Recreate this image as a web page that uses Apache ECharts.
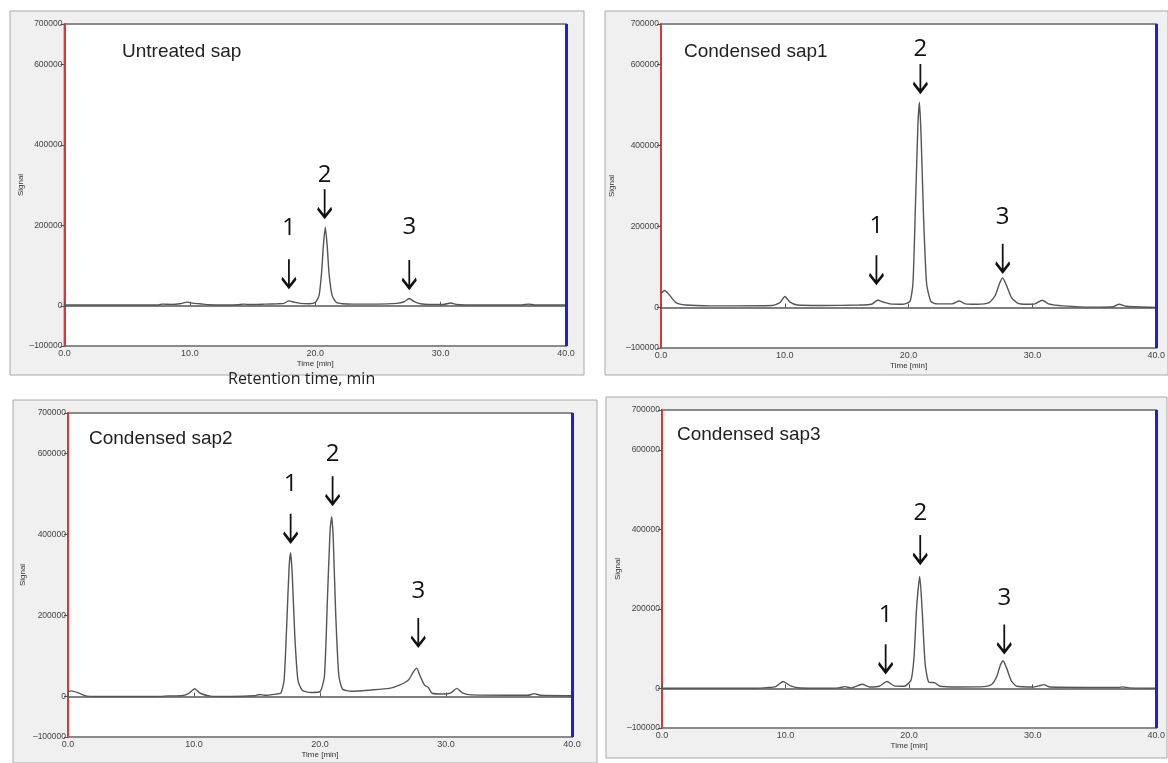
<!DOCTYPE html>
<html>
<head>
<meta charset="utf-8">
<script src="https://cdn.jsdelivr.net/npm/echarts@6/dist/echarts.min.js"></script>
<style>
  html, body { margin: 0; padding: 0; background: #fff; }
  #main { width: 1168px; height: 763px; }
</style>
</head>
<body>
<div id="main"></div>
<script>
// chromatogram traces, [time min, signal]
const untreatedSap = [
  [0, 2000], [7.5, 2000], [7.8, 4000], [8.5, 3500], [9.2, 5000], [9.8, 9000], [10.3, 6000],
  [10.8, 5000], [11.5, 2500], [13, 2000], [13.8, 2500], [14.3, 4000], [14.8, 3000], [16, 4000],
  [17, 5000], [17.5, 6000], [17.9, 12000], [18.3, 9000], [18.8, 6000], [19.5, 5000], [20, 8000],
  [20.3, 25000], [20.5, 80000], [20.65, 150000], [20.8, 195000], [20.95, 150000], [21.1, 80000],
  [21.35, 25000], [21.7, 8000], [22.2, 5000], [23, 4000], [25, 4000], [26.5, 6000], [27.1, 10000],
  [27.5, 18000], [27.9, 10000], [28.4, 5000], [29, 3000], [30.2, 3000], [30.8, 7000], [31.3, 3000],
  [32, 2000], [36.5, 2000], [37, 4000], [37.5, 2000], [40, 2000]
];
const condensedSap1 = [
  [0, 35000], [0.3, 42000], [0.7, 30000], [1.2, 12000], [2, 6000], [4, 4000], [9, 5000], [9.6, 12000],
  [10, 27000], [10.4, 14000], [11, 6000], [13, 5000], [16, 6000], [17, 8000], [17.5, 18000],
  [18, 13000], [18.5, 9000], [19.5, 8000], [20.1, 15000], [20.35, 60000], [20.55, 250000],
  [20.75, 450000], [20.87, 507000], [21.0, 430000], [21.2, 230000], [21.45, 60000], [21.8, 15000],
  [22.3, 9000], [23.5, 9000], [24.1, 16000], [24.6, 9000], [25.5, 8000], [26.5, 12000], [27, 30000],
  [27.35, 60000], [27.6, 73000], [27.9, 55000], [28.3, 25000], [28.8, 11000], [29.5, 8000],
  [30.2, 9000], [30.8, 18000], [31.3, 9000], [32.5, 4000], [35, 1000], [36.5, 2000], [37, 8000],
  [37.6, 3000], [40, 0]
];
const condensedSap2 = [
  [0, 12000], [0.3, 14000], [0.8, 9000], [1.5, 1000], [3, 0], [7, 0], [8, 1500], [9, 2000],
  [9.6, 8000], [10.05, 19000], [10.5, 8000], [11.3, 1000], [13, 0], [14.8, 2000], [15.2, 5000],
  [15.6, 3000], [16.5, 6000], [16.9, 9000], [17.15, 40000], [17.35, 170000], [17.55, 320000],
  [17.67, 355000], [17.8, 300000], [18.0, 150000], [18.25, 40000], [18.6, 15000], [19.3, 10000],
  [20, 12000], [20.35, 50000], [20.6, 250000], [20.8, 410000], [20.93, 444000], [21.05, 390000],
  [21.25, 200000], [21.5, 50000], [21.8, 18000], [22.5, 13000], [24, 16000], [25.5, 20000],
  [26.3, 28000], [27, 40000], [27.4, 60000], [27.67, 70000], [27.95, 50000], [28.3, 28000],
  [28.6, 22000], [28.9, 8000], [29.8, 6000], [30.4, 9000], [30.85, 20000], [31.3, 9000], [32, 4000],
  [36.5, 3000], [37, 7000], [37.5, 3000], [40, 2000]
];
const condensedSap3 = [
  [0, 0], [7.6, 0], [8.5, 1500], [9.2, 4000], [9.8, 17000], [10.4, 6000], [11.2, 500], [13, 0],
  [14.3, 1000], [14.8, 4000], [15.3, 1000], [16.2, 10000], [16.8, 3000], [17.6, 5000], [18.2, 17000],
  [18.8, 6000], [19.6, 5000], [20.15, 20000], [20.4, 80000], [20.6, 200000], [20.86, 281000],
  [21.05, 200000], [21.3, 60000], [21.6, 15000], [22.06, 14000], [22.5, 5000], [24, 3000],
  [26, 4000], [26.7, 10000], [27.1, 30000], [27.4, 60000], [27.6, 69000], [27.9, 50000],
  [28.25, 20000], [28.7, 5000], [30, 3000], [30.5, 6000], [30.9, 9000], [31.4, 3000], [35, 2000],
  [37, 2000], [37.3, 3500], [37.8, 1000], [40, 0]
];

// peak markers: [label, time, signal at arrow tip]
const untreatedPeaks = [['1', 17.9, 46000], ['2', 20.75, 220000], ['3', 27.5, 44000]];
const sap1Peaks = [['1', 17.4, 60000], ['2', 20.95, 532000], ['3', 27.6, 88000]];
const sap2Peaks = [['1', 17.67, 382000], ['2', 21.0, 475000], ['3', 27.8, 125000]];
const sap3Peaks = [['1', 18.1, 40000], ['2', 20.9, 315000], ['3', 27.7, 90000]];

const sampleNames = ['Untreated sap', 'Condensed sap1', 'Condensed sap2', 'Condensed sap3'];
const xTicks = [0, 10, 20, 30, 40];
const yTicks = [-100000, 0, 200000, 400000, 600000, 700000];

const traces = [untreatedSap, condensedSap1, condensedSap2, condensedSap3];
const peaks = [untreatedPeaks, sap1Peaks, sap2Peaks, sap3Peaks];

// layout of the four panels
const grids = [
  {left: 64.5, top: 24, width: 501.5, height: 322},
  {left: 661, top: 24, width: 504, height: 324},
  {left: 68, top: 413, width: 504, height: 324},
  {left: 662, top: 410, width: 498, height: 318}
];
const panels = [
  {x: 10, y: 11, w: 574, h: 364},
  {x: 605, y: 11, w: 563, h: 364},
  {x: 13, y: 400, w: 584, h: 363},
  {x: 606, y: 397, w: 561, h: 361}
];
const titlePos = [[122, 42], [684, 42], [89, 429], [677, 425]];
const signalGap = [40, 45, 41, 40];
// px between a peak number and the top of its arrow
const labelGap = [[31, 14, 33], [29, 15, 27], [30, 22, 27], [29, 22, 27]];

const arrow = 'path://M7,0 L7,28 M0,19 L7,28 L14,19';

const chart = echarts.init(document.getElementById('main'));

const option = {
  animation: false,
  backgroundColor: '#fff',
  title: sampleNames.map((t, i) => ({
    text: t, left: titlePos[i][0], top: titlePos[i][1], padding: 0,
    textStyle: {fontFamily: 'Liberation Sans', fontWeight: 'normal', fontSize: 19, color: '#222'}
  })).concat([{
    text: 'Retention time, min', left: 228, top: 371, padding: 0,
    textStyle: {fontFamily: 'Open Sans', fontWeight: 'normal', fontSize: 16, color: '#222'}
  }]),
  graphic: panels.map(p => ({
    type: 'rect', z: -10, silent: true,
    shape: {x: p.x, y: p.y, width: p.w, height: p.h},
    style: {fill: '#f0f0f0', stroke: '#a8a8a8', lineWidth: 1}
  })),
  grid: grids.map(g => Object.assign({
    show: true, backgroundColor: '#fff', borderColor: '#8a8a8a', borderWidth: 2
  }, g)),
  xAxis: grids.map((g, i) => ({
    type: 'value', gridIndex: i, min: 0, max: 40, interval: 10,
    name: 'Time [min]', nameLocation: 'middle', nameGap: 14,
    nameTextStyle: {fontFamily: 'Liberation Sans', fontSize: 8, color: '#333'},
    axisLine: {lineStyle: {color: '#555', width: 1.5}},
    axisTick: {inside: true, length: 4, lineStyle: {color: '#555'}},
    axisLabel: {
      customValues: xTicks, margin: 3, fontFamily: 'Liberation Sans', fontSize: 9, color: '#444',
      formatter: v => v.toFixed(1)
    },
    splitLine: {show: false}
  })),
  yAxis: grids.map((g, i) => ({
    type: 'value', gridIndex: i, min: -100000, max: 700000,
    name: 'Signal', nameLocation: 'middle', nameGap: signalGap[i],
    nameTextStyle: {fontFamily: 'Liberation Sans', fontSize: 8, color: '#333'},
    axisLine: {show: true, lineStyle: {color: '#d9383a', width: 2}},
    axisTick: {show: true, customValues: yTicks, length: 4, lineStyle: {color: '#555'}},
    axisLabel: {
      customValues: yTicks, margin: 2, fontFamily: 'Liberation Sans', fontSize: 8.5, color: '#444',
      formatter: v => (v < 0 ? '\u2013' + Math.abs(v) : String(v))
    },
    splitLine: {show: false}
  })),
  series: traces.map((d, i) => ({
    type: 'line', xAxisIndex: i, yAxisIndex: i, data: d,
    showSymbol: false, smooth: 0.2, clip: false, silent: true,
    lineStyle: {color: '#555', width: 1.4},
    markLine: {
      silent: true, symbol: 'none', label: {show: false},
      lineStyle: {color: '#1f1fd6', width: 3, type: 'solid'},
      data: [{xAxis: 40}]
    },
    markPoint: {
      silent: true, symbol: arrow, symbolSize: [14, 28], symbolOffset: [0, '-50%'],
      itemStyle: {color: 'rgba(0,0,0,0)', borderColor: '#111', borderWidth: 2.5},
      label: {
        show: true, position: 'top', formatter: '{b}',
        fontFamily: 'Open Sans', fontSize: 24, color: '#111'
      },
      data: peaks[i].map((p, k) => ({
        name: p[0], coord: [p[1], p[2]],
        label: {distance: labelGap[i][k] - 14}
      }))
    }
  }))
};

chart.setOption(option);
window.onresize = chart.resize;
</script>
</body>
</html>
